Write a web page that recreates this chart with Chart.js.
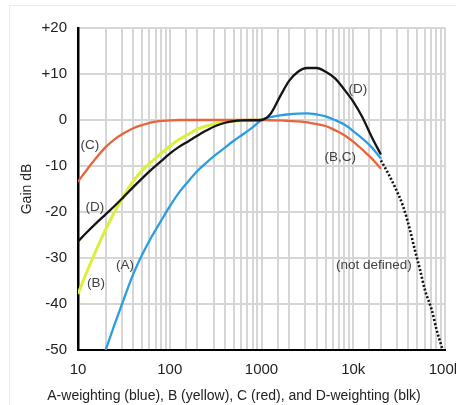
<!DOCTYPE html>
<html>
<head>
<meta charset="utf-8">
<script src="https://cdn.jsdelivr.net/npm/chart.js@4.4.1/dist/chart.umd.min.js"></script>
<style>
  body { margin: 0; background: #fff; }
  #wrap { position: relative; width: 456px; height: 405px; overflow: hidden; }
  #frame { position: absolute; left: 9px; top: 5px; width: 460px; height: 410px; border-top: 1px solid #ebebeb; border-left: 1px solid #ebebeb; }
  #myChart { position: absolute; left: 0; top: 0; }
</style>
</head>
<body>
<div id="wrap">
  <div id="frame"></div>
  <canvas id="myChart" width="456" height="405"></canvas>
</div>
<script>
// third-octave frequencies (Hz)
const freqs = [10, 12.5, 16, 20, 25, 31.5, 40, 50, 63, 80, 100, 125, 160, 200, 250, 315, 400, 500, 630, 800,
  1000, 1250, 1600, 2000, 2500, 3150, 4000, 5000, 6300, 8000, 10000, 12500, 16000, 20000];

// gain in dB
const aGain = [null, null, null, -50, -44.5, -39, -33.5, -29.3, -25.5, -22, -18.8, -15.9, -13.3, -11.1, -9.3, -7.6, -6, -4.5, -3.1, -1.6,
  0, 0.6, 1.0, 1.25, 1.4, 1.45, 1.2, 0.8, 0, -1, -2.4, -4, -6, -8.4];
const bGain = [-37.8, -33, -28, -23.8, -20, -16.5, -13.3, -11, -9.1, -7.3, -5.7, -4.3, -3.1, -2.0, -1.3, -0.8, -0.45, -0.25, -0.1, 0, 0];
const cGain = [-13.4, -10.8, -8.1, -5.9, -4.2, -2.9, -1.8, -1.1, -0.5, -0.2, -0.1, 0, 0, 0, 0, 0, 0, 0, 0, 0,
  0, -0.05, -0.1, -0.2, -0.3, -0.5, -0.9, -1.3, -2.2, -3.3, -4.7, -6.4, -8.4, -10.6];
const dGain = [-26.4, -24.4, -22.3, -20.5, -18.7, -16.7, -14.6, -12.7, -10.8, -9.0, -7.3, -5.9, -4.6, -3.4, -2.3, -1.3, -0.6, -0.25, -0.1, -0.05,
  0, 1.3, 5.2, 8.5, 10.5, 11.3, 11.3, 10.5, 9.1, 6.6, 4.0, 0.7, -3.8, -7.5];

// dotted "not defined" extension
const dotFreq = [20000, 22000, 28500, 35000, 41500, 47000, 53500, 60500, 71500, 81000, 92000, 96000];
const dotGain = [-8.8, -10.2, -14.6, -18.8, -23.9, -28.3, -32.6, -37, -41.2, -45.6, -49.3, -50.5];

const xTickValues = [10, 100, 1000, 10000, 100000];
const xTickLabels = ["10", "100", "1000", "10k", "100k"];

// curve labels: text, frequency, gain
const noteText = ["(C)", "(D)", "(B)", "(A)", "(D)", "(B,C)", "(not defined)"];
const noteFreq = [13.5, 15.3, 15.7, 32.5, 11200, 7200, 16800];
const noteGain = [-5.4, -18.9, -35.4, -31.5, 6.7, -8, -31.5];

const FONT = "'Liberation Sans', Arial, Helvetica, sans-serif";

function points(fs, gs) {
  const out = [];
  for (let i = 0; i < gs.length; i++) {
    if (gs[i] !== null) out.push({ x: fs[i], y: gs[i] });
  }
  return out;
}

function curve(label, data, color, width, order) {
  return {
    label: label,
    data: data,
    borderColor: color,
    backgroundColor: color,
    borderWidth: width,
    pointRadius: 0,
    fill: false,
    showLine: true,
    cubicInterpolationMode: "monotone",
    order: order,
  };
}

const notes = {
  id: "notes",
  afterDatasetsDraw(chart) {
    const ctx = chart.ctx;
    const xs = chart.scales.x;
    const ys = chart.scales.y;
    ctx.save();
    ctx.font = "13.5px " + FONT;
    ctx.fillStyle = "#404040";
    ctx.textAlign = "center";
    ctx.textBaseline = "middle";
    noteText.forEach((t, i) => {
      ctx.fillText(t, xs.getPixelForValue(noteFreq[i]), ys.getPixelForValue(noteGain[i]));
    });
    ctx.restore();
  },
};

const ctx = document.getElementById("myChart");

new Chart(ctx, {
  type: "scatter",
  data: {
    datasets: [
      curve("D", points(freqs, dGain), "#141414", 2.3, 0),
      curve("A", points(freqs, aGain), "#2b9de0", 2.3, 1),
      curve("C", points(freqs, cGain), "#e8643c", 2.3, 2),
      curve("B", points(freqs, bGain), "#dcef3a", 3, 3),
      Object.assign(curve("undef", points(dotFreq, dotGain), "#111", 2.6, 4), { borderDash: [2, 2] }),
    ],
  },
  options: {
    responsive: false,
    animation: false,
    layout: { padding: { left: 23, right: 11, top: 28, bottom: 0 } },
    plugins: {
      legend: { display: false },
      tooltip: { enabled: false },
      title: {
        display: true,
        position: "bottom",
        text: "A-weighting (blue), B (yellow), C (red), and D-weighting (blk)",
        color: "#222",
        font: { family: FONT, size: 14, weight: "normal" },
        padding: { top: 0, bottom: 0 },
      },
    },
    scales: {
      x: {
        type: "logarithmic",
        min: 10,
        max: 100000,
        grid: { color: "#d6d6d6", lineWidth: 2, drawTicks: false },
        border: { color: "#000", width: 2 },
        ticks: {
          autoSkip: false,
          maxRotation: 0,
          padding: 11,
          color: "#222",
          font: { family: FONT, size: 15 },
          callback: (v) => {
            const i = xTickValues.indexOf(v);
            return i >= 0 ? xTickLabels[i] : "";
          },
        },
        afterFit: (s) => {
          s.height = 38.2;
          s.paddingLeft = 0;
          s.paddingRight = 0;
        },
      },
      y: {
        min: -50,
        max: 20,
        grid: { color: "#d6d6d6", lineWidth: 2, drawTicks: false },
        border: { color: "#000", width: 2.5 },
        ticks: {
          stepSize: 10,
          padding: 11,
          color: "#222",
          font: { family: FONT, size: 15 },
          callback: (v) => (v > 0 ? "+" + v : String(v)),
        },
        title: {
          display: true,
          text: "Gain dB",
          color: "#222",
          font: { family: FONT, size: 14 },
          padding: { top: -4.4, bottom: 0 },
        },
        afterFit: (s) => {
          s.width = 55;
        },
      },
    },
  },
  plugins: [notes],
});
</script>
</body>
</html>
